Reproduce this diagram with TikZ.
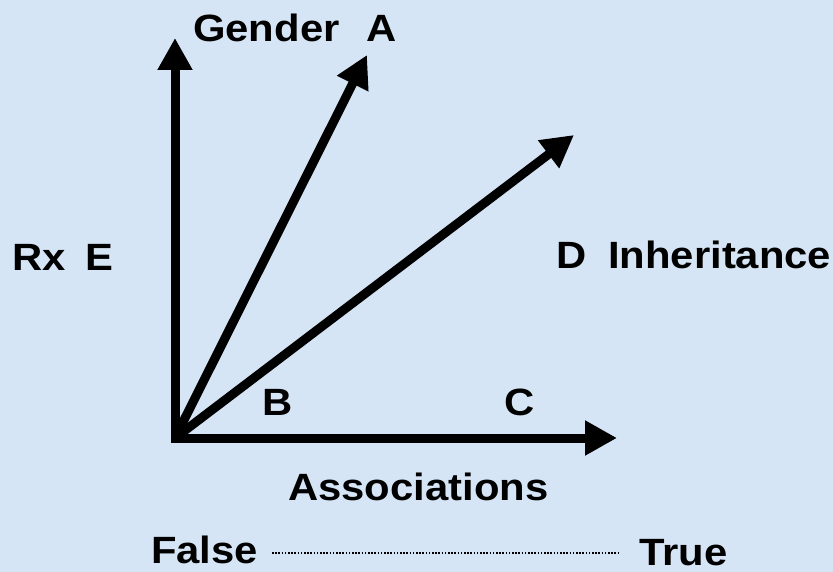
\documentclass[tikz,border=0pt]{standalone}
\usepackage{fontspec}
\setmainfont{Liberation Sans}[FakeStretch=1.1]
\usetikzlibrary{arrows.meta}
\definecolor{bgblue}{RGB}{214,229,245}
\tikzset{
  lab/.style={inner sep=0pt, anchor=base west, font=\fontsize{38}{40}\selectfont\bfseries},
  axis/.style={line width=9pt, -{Triangle[length=32pt,width=33pt]}},
  axes2/.style={line width=9pt, {Triangle[length=32pt,width=33pt]}-{Triangle[length=32pt,width=33pt]}, line join=miter},
  dots/.style={line width=1.6pt, dash pattern=on 1.6pt off 1.6pt}
}
\begin{document}
\begin{tikzpicture}[x=1pt,y=-1pt]
\fill[bgblue] (0,0) rectangle (833,572);
\useasboundingbox (0,0) rectangle (833,572);
\coordinate (O) at (175,438);
\coordinate (Ytip) at (175,38);
\coordinate (Xtip) at (617,438);
\coordinate (Atip) at (367,55);
\coordinate (Dtip) at (574,135);
\draw[axes2] (Ytip) -- (O) -- (Xtip);
\draw[axis] (O) -- (Atip);
\draw[axis] (O) -- (Dtip);
\node[lab] (gender) at (193,42) {Gender};
\node[lab] (a) at (366,42) {A};
\node[lab] (rx) at (12,270) {Rx};
\node[lab] (e) at (85,270) {E};
\node[lab] (d) at (556,269) {D};
\node[lab] (inh) at (608,269) {Inheritance};
\node[lab] (b) at (262,415) {B};
\node[lab] (c) at (504,415) {C};
\node[lab] (assoc) at (288,500) {Associations};
\node[lab] (false) at (151,563) {False};
\node[lab] (true) at (639,565) {True};
\coordinate (d1) at (272,553);
\coordinate (d2) at (620,553);
\draw[dots] (d1) -- (d2);
\end{tikzpicture}
\end{document}
